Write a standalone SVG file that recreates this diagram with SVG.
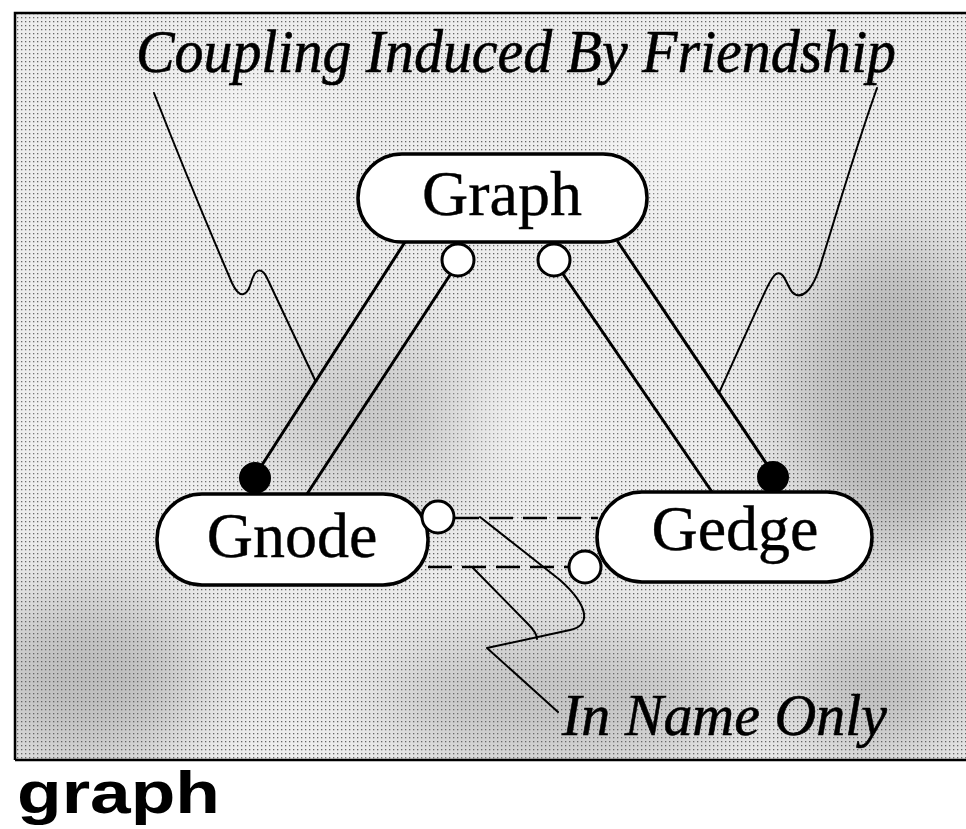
<svg xmlns="http://www.w3.org/2000/svg" width="966" height="829" viewBox="0 0 966 829">
  <style>
    .node rect { fill: #ffffff; stroke: #000; stroke-width: 3.5; }
    .label { font-family: "Liberation Serif", "Times New Roman", serif; font-size: 64px; fill: #000; text-anchor: middle; stroke: #000; stroke-width: 0.4; }
    .conn { stroke: #000; stroke-width: 3; fill: none; stroke-linecap: round; }
    .lead { stroke: #000; stroke-width: 2; fill: none; stroke-linecap: round; stroke-linejoin: round; }
    .dash { stroke: #000; stroke-width: 2.5; fill: none; stroke-dasharray: 24 10; }
    .open { fill: #fff; stroke: #000; stroke-width: 3; }
    .solid { fill: #000; stroke: #000; stroke-width: 2; }
    .note { font-family: "Liberation Serif", "Times New Roman", serif; font-style: italic; fill: #000; stroke: #000; stroke-width: 0.6; }
  </style>
  <defs>
    <pattern id="stip" width="4" height="4" patternUnits="userSpaceOnUse">
      <rect width="4" height="4" fill="#ededed"/>
      <rect x="1" y="1" width="1.3" height="1.3" fill="#666"/>
    </pattern>
    <filter id="blur" x="-50%" y="-50%" width="200%" height="200%">
      <feGaussianBlur stdDeviation="40"/>
    </filter>
    <clipPath id="frameclip"><rect x="15" y="13" width="951" height="747"/></clipPath>
  </defs>

  <rect width="966" height="829" fill="#ffffff"/>

  <g id="background" clip-path="url(#frameclip)">
    <rect x="15" y="13" width="951" height="747" fill="url(#stip)"/>
    <g filter="url(#blur)" opacity="0.35">
      <ellipse cx="900" cy="400" rx="110" ry="160" fill="#555"/>
      <ellipse cx="90" cy="680" rx="110" ry="90" fill="#666"/>
      <ellipse cx="560" cy="700" rx="180" ry="70" fill="#777"/>
      <ellipse cx="380" cy="420" rx="120" ry="80" fill="#888"/>
      <ellipse cx="880" cy="690" rx="90" ry="70" fill="#666"/>
    </g>
    <g filter="url(#blur)" opacity="0.5">
      <ellipse cx="250" cy="140" rx="90" ry="60" fill="#fff"/>
      <ellipse cx="690" cy="140" rx="90" ry="60" fill="#fff"/>
      <ellipse cx="520" cy="420" rx="70" ry="60" fill="#fff"/>
      <ellipse cx="120" cy="420" rx="70" ry="80" fill="#fff"/>
    </g>
  </g>
  <path d="M15 760 V13 H966" fill="none" stroke="#000" stroke-width="2.5"/>
  <line x1="15" y1="760" x2="966" y2="760" stroke="#000" stroke-width="2.5"/>

  <g id="connectors">
    <line class="conn" x1="405" y1="242" x2="262" y2="465"/>
    <line class="conn" x1="307" y1="494" x2="450" y2="275"/>
    <line class="conn" x1="712" y1="492" x2="563" y2="274"/>
    <line class="conn" x1="618" y1="242" x2="766" y2="463"/>
    <line class="dash" x1="455" y1="518" x2="598" y2="518"/>
    <line class="dash" x1="428" y1="567" x2="569" y2="567"/>
    <circle class="open" cx="458" cy="260" r="16"/>
    <circle class="open" cx="554" cy="260" r="16"/>
    <circle class="solid" cx="255" cy="478" r="15"/>
    <circle class="solid" cx="773" cy="477" r="15"/>
  </g>

  <g id="node-graph" class="node">
    <rect x="358" y="154" width="289" height="88" rx="44" ry="44"/>
    <text class="label" x="502" y="215">Graph</text>
  </g>
  <g id="node-gnode" class="node">
    <rect x="157" y="494" width="271" height="91" rx="45" ry="45"/>
    <text class="label" x="292" y="557">Gnode</text>
  </g>
  <g id="node-gedge" class="node">
    <rect x="597" y="492" width="275" height="90" rx="45" ry="45"/>
    <text class="label" x="735" y="550">Gedge</text>
  </g>

  <g id="end-circles">
    <circle class="open" cx="438" cy="517" r="16"/>
    <circle class="open" cx="585" cy="567" r="16"/>
  </g>

  <g id="annotations">
    <text class="note" x="136" y="72" font-size="62" textLength="760" lengthAdjust="spacingAndGlyphs">Coupling Induced By Friendship</text>
    <path class="lead" d="M154 93 C190 185 220 255 232 283 C240 300 247 296 251 283 C255 268 262 266 268 280 L315 380"/>
    <path class="lead" d="M877 88 C855 150 836 215 822 260 C812 295 800 300 792 292 C786 284 784 270 776 274 C770 278 765 292 719 393"/>
    <text class="note" x="562" y="735" font-size="59" textLength="325" lengthAdjust="spacingAndGlyphs">In Name Only</text>
    <path class="lead" d="M480 517 L560 580 C588 605 592 625 570 630 L487 648 L558 712"/>
    <path class="lead" d="M473 568 L528 624 C534 630 537 634 537 639"/>
    <text x="17" y="813" font-family="'Liberation Sans', Arial, sans-serif" font-weight="bold" font-size="60" textLength="203" lengthAdjust="spacingAndGlyphs">graph</text>
  </g>
</svg>
